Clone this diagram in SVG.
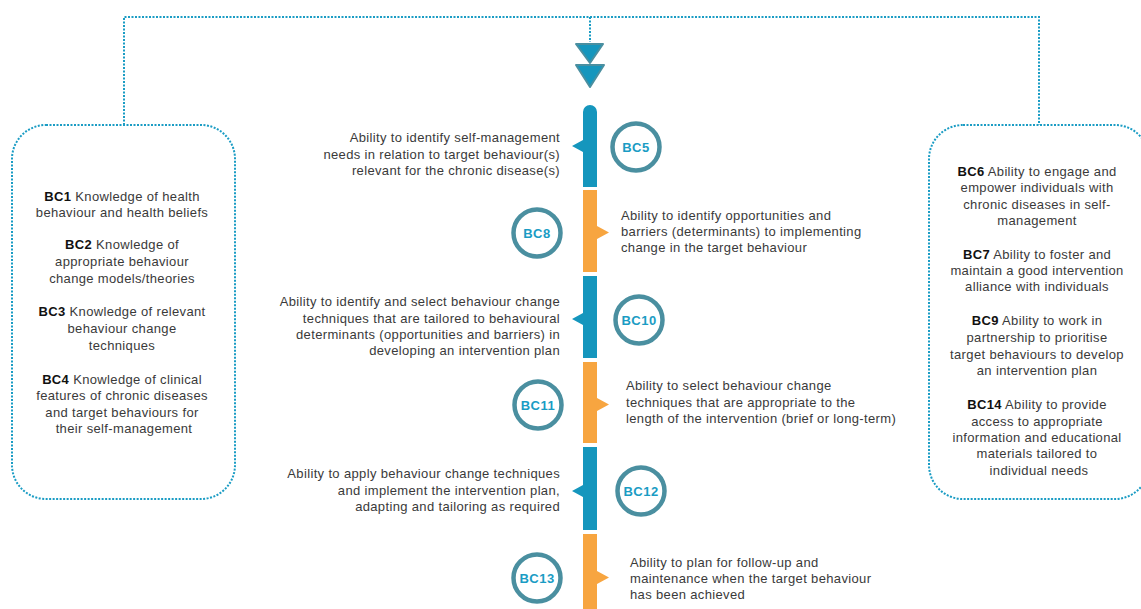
<svg xmlns="http://www.w3.org/2000/svg" width="1141" height="609" viewBox="0 0 1141 609">
<style>
.dot{fill:none;stroke:#1a9cc4;stroke-width:2;stroke-dasharray:2 1.5}
.t{font-family:"Liberation Sans",Arial,sans-serif;font-size:13px;letter-spacing:0.35px;fill:#3a3a3a}
.b{font-weight:bold;fill:#111}
.blue{fill:#1596bd}
.orange{fill:#f7a540}
.circ{fill:#fff;stroke:#4a8fa0;stroke-width:4.5}
.ct{font-family:"Liberation Sans",Arial,sans-serif;font-size:13px;letter-spacing:0.5px;font-weight:bold;fill:#1a9cc4;text-anchor:middle}
.arr{fill:#1596bd;stroke:#4a8fa0;stroke-width:2;stroke-linejoin:round}
</style>
<rect width="1141" height="609" fill="#fff"/>
<g id="connectors">
<path class="dot" d="M124,125 V17 H1039 V125"/>
<path class="dot" d="M590,17 V42"/>
<polygon class="arr" points="576,44 603,44 590,63"/>
<polygon class="arr" points="576,65 604,65 590,87"/>
</g>
<g id="left-box">
<rect class="dot" x="12" y="125" width="223" height="374" rx="34"/>
<text class="t" text-anchor="middle">
<tspan x="124" y="201"><tspan class="b">BC1</tspan> Knowledge of health</tspan>
<tspan x="124" y="217">behaviour and health beliefs</tspan>
<tspan x="124" y="249"><tspan class="b">BC2</tspan> Knowledge of</tspan>
<tspan x="124" y="266">appropriate behaviour</tspan>
<tspan x="124" y="283">change models/theories</tspan>
<tspan x="124" y="316"><tspan class="b">BC3</tspan> Knowledge of relevant</tspan>
<tspan x="124" y="333">behaviour change</tspan>
<tspan x="124" y="350">techniques</tspan>
<tspan x="124" y="384"><tspan class="b">BC4</tspan> Knowledge of clinical</tspan>
<tspan x="124" y="400">features of chronic diseases</tspan>
<tspan x="124" y="417">and target behaviours for</tspan>
<tspan x="124" y="433">their self-management</tspan>
</text>
</g>
<g id="right-box">
<rect class="dot" x="929" y="125" width="220" height="374" rx="34"/>
<text class="t" text-anchor="middle">
<tspan x="1039" y="176"><tspan class="b">BC6</tspan> Ability to engage and</tspan>
<tspan x="1039" y="192">empower individuals with</tspan>
<tspan x="1039" y="209">chronic diseases in self-</tspan>
<tspan x="1039" y="225">management</tspan>
<tspan x="1039" y="259"><tspan class="b">BC7</tspan> Ability to foster and</tspan>
<tspan x="1039" y="275">maintain a good intervention</tspan>
<tspan x="1039" y="291">alliance with individuals</tspan>
<tspan x="1039" y="325"><tspan class="b">BC9</tspan> Ability to work in</tspan>
<tspan x="1039" y="342">partnership to prioritise</tspan>
<tspan x="1039" y="359">target behaviours to develop</tspan>
<tspan x="1039" y="375">an intervention plan</tspan>
<tspan x="1039" y="409"><tspan class="b">BC14</tspan> Ability to provide</tspan>
<tspan x="1039" y="426">access to appropriate</tspan>
<tspan x="1039" y="442">information and educational</tspan>
<tspan x="1039" y="458">materials tailored to</tspan>
<tspan x="1039" y="475">individual needs</tspan>
</text>
</g>
<g id="BC5">
<path class="blue" d="M583,112 A7,7 0 0 1 597,112 V187 H583 V152 L572,146 L583,140 Z"/>
<circle class="circ" cx="636" cy="147" r="23.5"/>
<text class="ct" x="636" y="151.5">BC5</text>
<text class="t" text-anchor="end"><tspan x="560" y="142">Ability to identify self-management</tspan><tspan x="560" y="158.5">needs in relation to target behaviour(s)</tspan><tspan x="560" y="175">relevant for the chronic disease(s)</tspan></text>
</g>
<g id="BC8">
<path class="orange" d="M583,190 H597 V226 L609,232.5 L597,239 V272 H583 Z"/>
<circle class="circ" cx="537" cy="233" r="23.5"/>
<text class="ct" x="537" y="237.5">BC8</text>
<text class="t"><tspan x="621" y="219.5">Ability to identify opportunities and</tspan><tspan x="621" y="236">barriers (determinants) to implementing</tspan><tspan x="621" y="252">change in the target behaviour</tspan></text>
</g>
<g id="BC10">
<path class="blue" d="M583,276 H597 V358 H583 V325 L572,319 L583,313 Z"/>
<circle class="circ" cx="639" cy="320" r="23.5"/>
<text class="ct" x="639" y="324.5">BC10</text>
<text class="t" text-anchor="end"><tspan x="560" y="306">Ability to identify and select behaviour change</tspan><tspan x="560" y="322.5">techniques that are tailored to behavioural</tspan><tspan x="560" y="339">determinants (opportunities and barriers) in</tspan><tspan x="560" y="355">developing an intervention plan</tspan></text>
</g>
<g id="BC11">
<path class="orange" d="M583,362 H597 V398 L609,404.5 L597,411 V443 H583 Z"/>
<circle class="circ" cx="538" cy="405" r="23.5"/>
<text class="ct" x="538" y="409.5">BC11</text>
<text class="t"><tspan x="626" y="390">Ability to select behaviour change</tspan><tspan x="626" y="406.5">techniques that are appropriate to the</tspan><tspan x="626" y="422.5">length of the intervention (brief or long-term)</tspan></text>
</g>
<g id="BC12">
<path class="blue" d="M583,447 H597 V530 H583 V497 L572,491 L583,485 Z"/>
<circle class="circ" cx="641" cy="491" r="23.5"/>
<text class="ct" x="641" y="495.5">BC12</text>
<text class="t" text-anchor="end"><tspan x="560" y="478">Ability to apply behaviour change techniques</tspan><tspan x="560" y="494.5">and implement the intervention plan,</tspan><tspan x="560" y="511">adapting and tailoring as required</tspan></text>
</g>
<g id="BC13">
<path class="orange" d="M583,534 H597 V571 L609,577.5 L597,584 V609 H583 Z"/>
<circle class="circ" cx="537" cy="578" r="23.5"/>
<text class="ct" x="537" y="582.5">BC13</text>
<text class="t"><tspan x="630" y="566.5">Ability to plan for follow-up and</tspan><tspan x="630" y="583">maintenance when the target behaviour</tspan><tspan x="630" y="599">has been achieved</tspan></text>
</g>
</svg>
